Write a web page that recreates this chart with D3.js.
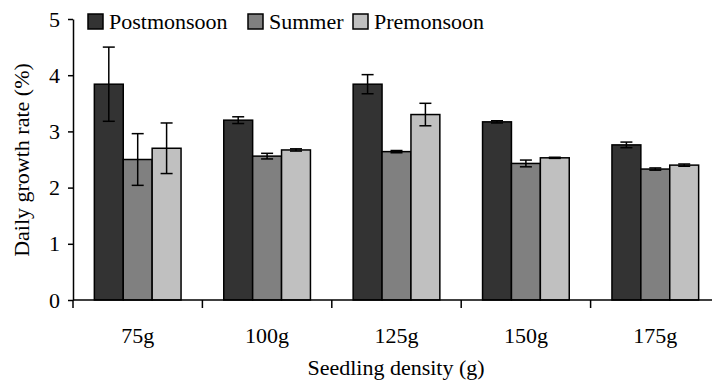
<!DOCTYPE html>
<html>
<head>
<meta charset="utf-8">
<script src="https://cdn.jsdelivr.net/npm/d3@7"></script>
<style>
  body { margin: 0; background: #fff; }
  text { font-family: "Liberation Serif", "Times New Roman", serif; fill: #000; }
</style>
</head>
<body>
<script>
var width = 712, height = 387;

// data
var densities = ["75g", "100g", "125g", "150g", "175g"];
var seasons = ["Postmonsoon", "Summer", "Premonsoon"];
var postmonsoon = [3.84, 3.20, 3.84, 3.17, 2.76];
var summer = [2.50, 2.56, 2.64, 2.43, 2.33];
var premonsoon = [2.70, 2.67, 3.30, 2.53, 2.40];
var postmonsoonErr = [0.66, 0.06, 0.17, 0.02, 0.05];
var summerErr = [0.46, 0.05, 0.02, 0.06, 0.02];
var premonsoonErr = [0.45, 0.02, 0.20, 0.01, 0.02];
var colors = ["#333333", "#808080", "#c0c0c0"];

var values = [postmonsoon, summer, premonsoon];
var errors = [postmonsoonErr, summerErr, premonsoonErr];

var svg = d3.select("body").append("svg")
    .attr("width", width)
    .attr("height", height);

var x0 = d3.scaleBand()
    .domain(densities)
    .range([73, 720])
    .paddingInner(0.33)
    .paddingOuter(0.165);

var x1 = d3.scaleBand()
    .domain(seasons)
    .range([0, x0.bandwidth()]);

var y = d3.scaleLinear()
    .domain([0, 5])
    .range([300, 19]);

var rows = [];
densities.forEach(function(d, i) {
  seasons.forEach(function(s, j) {
    rows.push({density: d, season: s, value: values[j][i], err: errors[j][i], color: colors[j]});
  });
});

// bars
svg.append("g").selectAll("rect")
  .data(rows)
  .enter().append("rect")
    .attr("x", function(d) { return x0(d.density) + x1(d.season); })
    .attr("y", function(d) { return y(d.value); })
    .attr("width", x1.bandwidth())
    .attr("height", function(d) { return y(0) - y(d.value); })
    .attr("fill", function(d) { return d.color; })
    .attr("stroke", "#000")
    .attr("stroke-width", 1.5);

// error bars
var eb = svg.append("g").selectAll("g")
  .data(rows)
  .enter().append("g")
    .attr("stroke", "#000")
    .attr("stroke-width", 1.5);

eb.append("line")
    .attr("x1", function(d) { return x0(d.density) + x1(d.season) + x1.bandwidth() / 2; })
    .attr("x2", function(d) { return x0(d.density) + x1(d.season) + x1.bandwidth() / 2; })
    .attr("y1", function(d) { return y(d.value + d.err); })
    .attr("y2", function(d) { return y(d.value - d.err); });

[1, -1].forEach(function(sign) {
  eb.append("line")
      .attr("x1", function(d) { return x0(d.density) + x1(d.season) + x1.bandwidth() / 2 - 6; })
      .attr("x2", function(d) { return x0(d.density) + x1(d.season) + x1.bandwidth() / 2 + 6; })
      .attr("y1", function(d) { return y(d.value + sign * d.err); })
      .attr("y2", function(d) { return y(d.value + sign * d.err); });
});

// y axis
var yAxis = svg.append("g")
    .attr("transform", "translate(73,0)")
    .call(d3.axisLeft(y).ticks(5).tickSize(5).tickPadding(8).tickSizeOuter(0));
yAxis.select(".domain").attr("stroke-width", 1.5);
yAxis.selectAll(".tick line").attr("stroke-width", 1.5);
yAxis.selectAll("text")
    .style("font-family", "Liberation Serif, serif")
    .style("font-size", "22px");

// x axis: ticks sit between the groups
var step = x0.step();
var sepTicks = d3.range(densities.length).map(function(i) { return 73 + i * step; });
var xg = svg.append("g").attr("transform", "translate(0,300)");
xg.append("line")
    .attr("x1", 73).attr("x2", 720)
    .attr("stroke", "#000").attr("stroke-width", 1.5);
xg.selectAll(".sep")
  .data(sepTicks)
  .enter().append("line")
    .attr("x1", function(d) { return d; })
    .attr("x2", function(d) { return d; })
    .attr("y1", 0).attr("y2", 8)
    .attr("stroke", "#000").attr("stroke-width", 1.5);
xg.selectAll(".lab")
  .data(densities)
  .enter().append("text")
    .attr("x", function(d) { return x0(d) + x0.bandwidth() / 2; })
    .attr("y", 43)
    .attr("text-anchor", "middle")
    .style("font-size", "22px")
    .text(function(d) { return d; });

// axis titles
svg.append("text")
    .attr("x", 396)
    .attr("y", 375)
    .attr("text-anchor", "middle")
    .style("font-size", "22px")
    .text("Seedling density (g)");

svg.append("text")
    .attr("transform", "translate(29,160) rotate(-90)")
    .attr("text-anchor", "middle")
    .style("font-size", "22px")
    .text("Daily growth rate (%)");

// legend
var legendX = [88, 248, 353];
var legend = svg.append("g").selectAll("g")
  .data(seasons)
  .enter().append("g")
    .attr("transform", function(d, i) { return "translate(" + legendX[i] + ",14)"; });
legend.append("rect")
    .attr("width", 15).attr("height", 15)
    .attr("fill", function(d, i) { return colors[i]; })
    .attr("stroke", "#000").attr("stroke-width", 1.5);
legend.append("text")
    .attr("x", 21)
    .attr("y", 14.5)
    .style("font-size", "22px")
    .text(function(d) { return d; });
</script>
</body>
</html>
